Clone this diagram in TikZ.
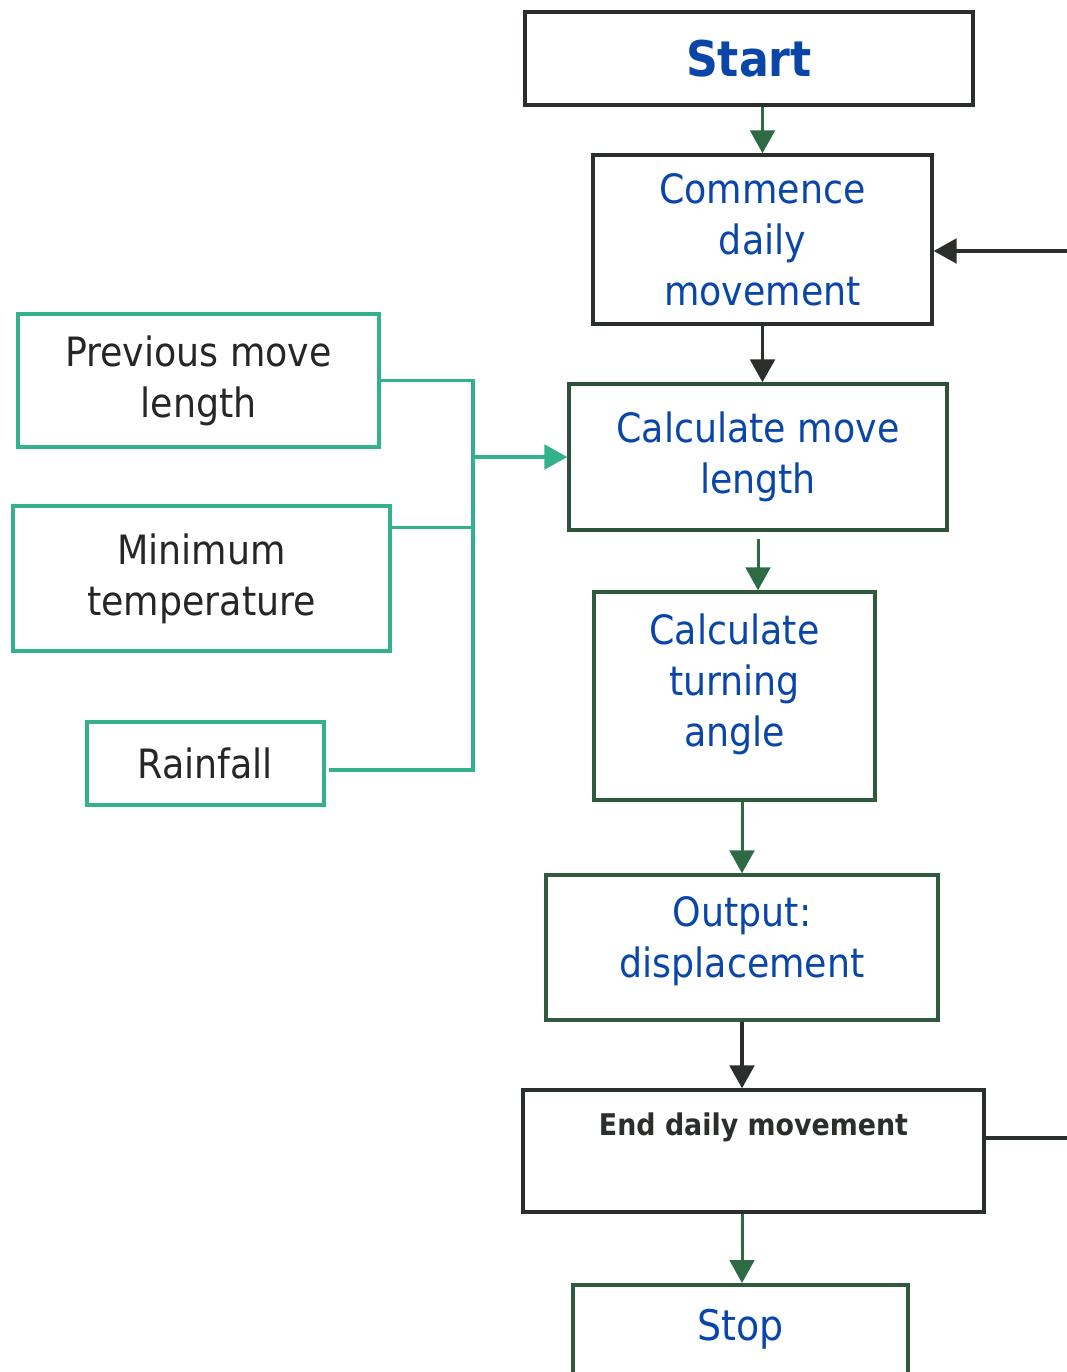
\documentclass[tikz,border=0pt]{standalone}
\usepackage{fontspec}
\setmainfont{DejaVu Sans Condensed}
\usetikzlibrary{arrows.meta,calc}
\definecolor{txtblue}{HTML}{0A46A8}
\definecolor{boxdark}{HTML}{2B2F2C}
\definecolor{boxgreen}{HTML}{2F5A3E}
\definecolor{arrgreen}{HTML}{2E6B45}
\definecolor{inteal}{HTML}{33B08C}
\begin{document}
\begin{tikzpicture}[x=0.02cm,y=-0.02cm,line join=miter,
 box/.style={draw=boxdark,line width=2pt,align=center,inner sep=0pt,text=txtblue,font=\fontsize{23}{29}\selectfont},
 inbox/.style={draw=inteal,line width=1.8pt,align=center,inner sep=0pt,text=black!85,font=\fontsize{23}{29}\selectfont},
 dk/.style={-{Triangle[length=13pt,width=14pt]},line width=1.9pt,draw=boxdark},
 gr/.style={-{Triangle[length=13pt,width=14pt]},line width=1.7pt,draw=arrgreen},
 tl/.style={line width=1.8pt,draw=inteal}]
\clip (0,0) rectangle (1067,1372);
% main column
\node[box,minimum width=8.96cm,minimum height=1.86cm,font=\fontsize{28}{34}\selectfont\bfseries] (start) at (749,58.5) {Start};
\node[box,minimum width=6.78cm,minimum height=3.38cm] (commence) at (762.5,239.5) {Commence\\daily\\movement};
\node[box,draw=boxgreen!80!boxdark,minimum width=7.56cm,minimum height=2.92cm] (calcmove) at (758,457) {Calculate move\\length};
\node[box,draw=boxgreen,minimum width=5.62cm,minimum height=4.16cm,text depth=18pt] (turn) at (734.5,696) {Calculate\\turning\\angle};
\node[box,draw=boxgreen,minimum width=7.84cm,minimum height=2.9cm,text depth=12pt] (output) at (742,947.5) {Output:\\displacement};
\node[box,minimum width=9.22cm,minimum height=2.44cm,text=boxdark,text depth=31pt,font=\fontsize{17}{21}\selectfont\bfseries] (end) at (753.5,1151) {End daily movement};
\node[box,draw=boxgreen,anchor=north,minimum width=6.7cm,minimum height=3cm,text depth=40pt,font=\fontsize{24}{29}\selectfont] (stop) at (740.5,1283) {Stop};
% inputs
\node[inbox,minimum width=7.22cm,minimum height=2.66cm] (prev) at (198.5,380.5) {Previous move\\length};
\node[inbox,minimum width=7.54cm,minimum height=2.9cm] (mintemp) at (201.5,578.5) {Minimum\\temperature};
\node[inbox,minimum width=4.74cm,minimum height=1.66cm] (rain) at (205.5,763.5) {Rainfall};
\coordinate (bus) at (473,457);
\coordinate (busbot) at (473,770);
\coordinate (loopin) at (1067,251);
\coordinate (loopout) at (1067,1138);
\draw[tl] (prev.east) -| (busbot) -- ([xshift=2pt]rain.east |- busbot);
\draw[tl] ($(mintemp.north east)+(0,23)$) -- (bus |- {$(mintemp.north east)+(0,23)$});
\draw[tl,-{Triangle[length=13pt,width=14pt]},inteal] (bus) -- (calcmove.west);
% flow
\draw[gr] (commence.north |- start.south) -- (commence.north);
\draw[dk] (commence.south) -- (commence.south |- calcmove.north);
\draw[gr] ($(calcmove.south)+(0,7)$) -- (calcmove.south |- turn.north);
\draw[gr] (output.north |- turn.south) -- (output.north);
\draw[dk] (output.south) -- (output.south |- end.north);
\draw[gr] (output.south |- end.south) -- (output.south |- stop.north);
\draw[dk] (loopin) -- (commence.east |- loopin);
\draw[line width=1.9pt,boxdark] (end.east |- loopout) -- (loopout);
\end{tikzpicture}
\end{document}
